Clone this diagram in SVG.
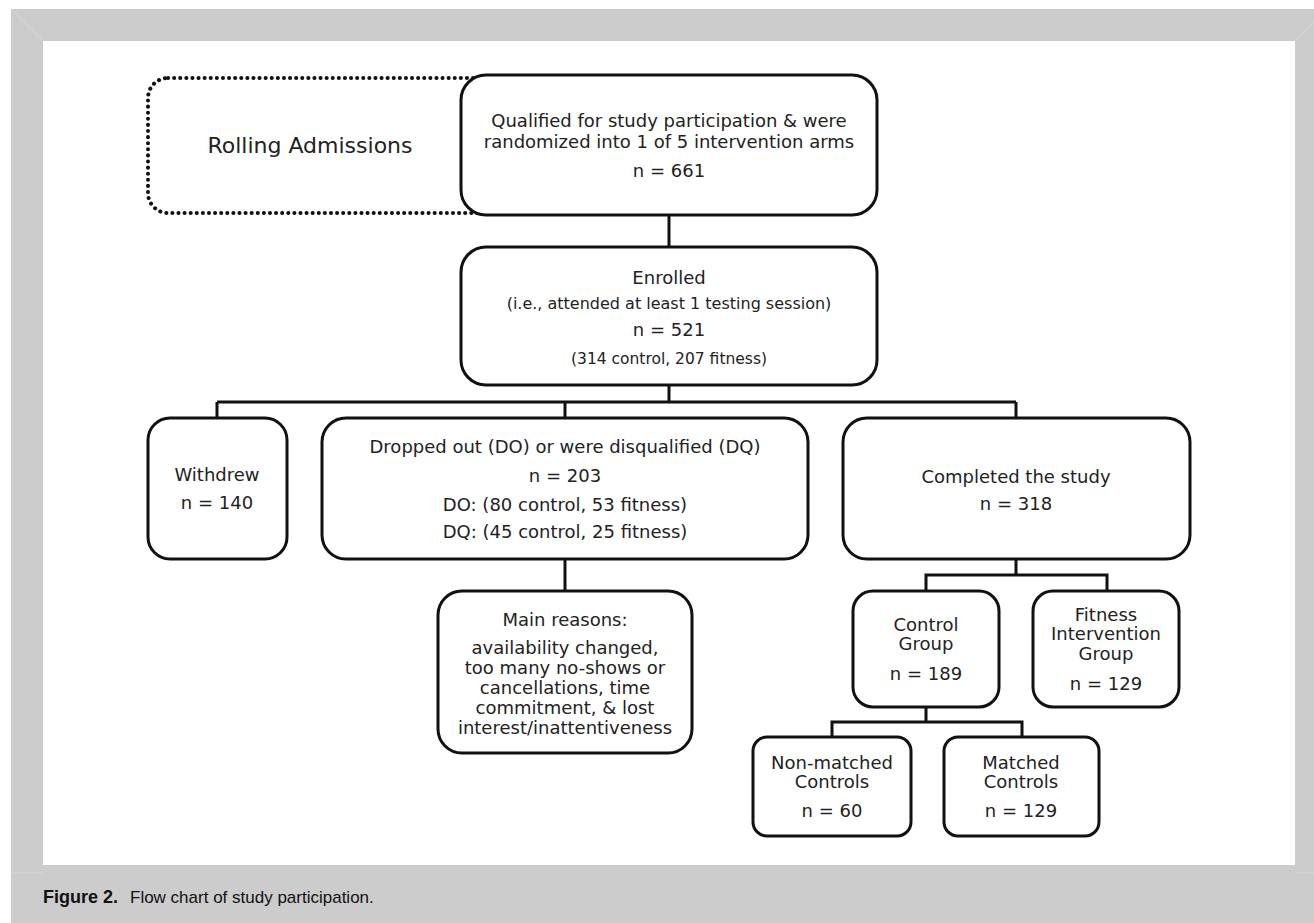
<svg xmlns="http://www.w3.org/2000/svg" width="1314" height="923" viewBox="0 0 1314 923">
<style>
.box{fill:#fff;stroke:#111;stroke-width:3}
.dot{fill:none;stroke:#111;stroke-width:4;stroke-dasharray:0.1 6;stroke-linecap:round}
.con{fill:none;stroke:#111;stroke-width:3}
text{font-family:"DejaVu Sans","Liberation Sans",sans-serif;fill:#222;text-anchor:middle}
.t18{font-size:18px}
.t16{font-size:16px}
.t15{font-size:15.5px}
.cap{font-family:"Liberation Sans",Arial,sans-serif;font-size:17px;text-anchor:start;fill:#111}
</style>
<rect x="0" y="0" width="1314" height="923" fill="#fff"/>
<rect x="11" y="9" width="1303" height="914" fill="#cccccc"/>
<rect x="43" y="41" width="1252" height="824" fill="#fff"/>
<g stroke="#d9d9d9" stroke-width="1" fill="none">
<line x1="11" y1="9" x2="43" y2="41"/>
<line x1="1295" y1="41" x2="1314" y2="22"/>
<line x1="11" y1="873" x2="43" y2="873"/>
<line x1="1296" y1="873" x2="1314" y2="873"/>
</g>
<g id="connectors">
<line class="con" x1="669" y1="215" x2="669" y2="247"/>
<polyline class="con" points="669,385 669,402"/>
<line class="con" x1="217" y1="402" x2="1016" y2="402"/>
<line class="con" x1="217" y1="402" x2="217" y2="418"/>
<line class="con" x1="565" y1="402" x2="565" y2="418"/>
<line class="con" x1="1016" y1="402" x2="1016" y2="418"/>
<line class="con" x1="565" y1="560" x2="565" y2="591"/>
<line class="con" x1="1016" y1="560" x2="1016" y2="575"/>
<polyline class="con" points="926,591 926,575 1107,575 1107,591"/>
<line class="con" x1="926" y1="707" x2="926" y2="722"/>
<polyline class="con" points="832,737 832,722 1022,722 1022,737"/>
</g>
<g id="rolling">
<rect class="dot" x="148" y="78" width="360" height="135" rx="20"/>
<text x="310" y="153" style="font-size:22px">Rolling Admissions</text>
</g>
<g id="qualified">
<rect class="box" x="461" y="75" width="416" height="140" rx="25"/>
<text class="t18" x="669" y="127">Qualified for study participation &amp; were</text>
<text class="t18" x="669" y="147.5">randomized into 1 of 5 intervention arms</text>
<text class="t18" x="669" y="177">n = 661</text>
</g>
<g id="enrolled">
<rect class="box" x="461" y="247" width="416" height="138" rx="25"/>
<text class="t18" x="669" y="283.5">Enrolled</text>
<text class="t16" x="669" y="309">(i.e., attended at least 1 testing session)</text>
<text class="t18" x="669" y="335.5">n = 521</text>
<text class="t15" x="669" y="363.5">(314 control, 207 fitness)</text>
</g>
<g id="withdrew">
<rect class="box" x="148" y="418" width="139" height="141" rx="22"/>
<text class="t18" x="217" y="480.5">Withdrew</text>
<text class="t18" x="217" y="508.5">n = 140</text>
</g>
<g id="dropped">
<rect class="box" x="322" y="418" width="486" height="141" rx="24"/>
<text class="t18" x="565" y="452.5">Dropped out (DO) or were disqualified (DQ)</text>
<text class="t18" x="565" y="481.5">n = 203</text>
<text class="t18" x="565" y="510.5">DO: (80 control, 53 fitness)</text>
<text class="t18" x="565" y="537.5">DQ: (45 control, 25 fitness)</text>
</g>
<g id="completed">
<rect class="box" x="843" y="418" width="347" height="141" rx="24"/>
<text class="t18" x="1016" y="482.5">Completed the study</text>
<text class="t18" x="1016" y="509.5">n = 318</text>
</g>
<g id="reasons">
<rect class="box" x="438" y="591" width="254" height="162" rx="24"/>
<text class="t18" x="565" y="625.5">Main reasons:</text>
<text class="t18" x="565" y="653.5">availability changed,</text>
<text class="t18" x="565" y="673.5">too many no-shows or</text>
<text class="t18" x="565" y="693.5">cancellations, time</text>
<text class="t18" x="565" y="713.5">commitment, &amp; lost</text>
<text class="t18" x="565" y="733.5">interest/inattentiveness</text>
</g>
<g id="control">
<rect class="box" x="853" y="591" width="146" height="116" rx="20"/>
<text class="t18" x="926" y="630.5">Control</text>
<text class="t18" x="926" y="649.5">Group</text>
<text class="t18" x="926" y="679.5">n = 189</text>
</g>
<g id="fitness">
<rect class="box" x="1033" y="591" width="146" height="116" rx="20"/>
<text class="t18" x="1106" y="620.5">Fitness</text>
<text class="t18" x="1106" y="639.5">Intervention</text>
<text class="t18" x="1106" y="659.5">Group</text>
<text class="t18" x="1106" y="689.5">n = 129</text>
</g>
<g id="nonmatched">
<rect class="box" x="753" y="737" width="158" height="99" rx="14"/>
<text class="t18" x="832" y="768.5">Non-matched</text>
<text class="t18" x="832" y="787.5">Controls</text>
<text class="t18" x="832" y="816.5">n = 60</text>
</g>
<g id="matched">
<rect class="box" x="944" y="737" width="155" height="99" rx="14"/>
<text class="t18" x="1021" y="768.5">Matched</text>
<text class="t18" x="1021" y="787.5">Controls</text>
<text class="t18" x="1021" y="816.5">n = 129</text>
</g>
<g id="caption">
<text class="cap" x="43" y="903" font-weight="bold" style="font-size:18px">Figure 2.</text>
<text class="cap" x="130" y="903">Flow chart of study participation.</text>
</g>
</svg>
